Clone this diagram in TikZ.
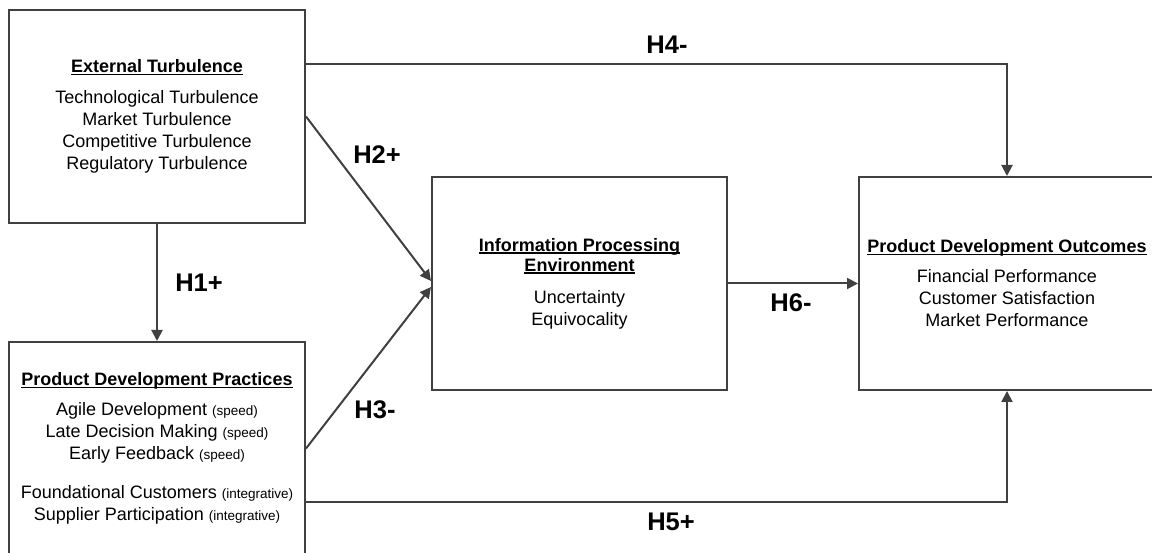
\documentclass[tikz,border=0pt]{standalone}
\usepackage{fontspec}
\setmainfont{Liberation Sans}
\usetikzlibrary{arrows.meta}
\definecolor{edge}{HTML}{404040}
% bold heading with a thin rule just under the baseline
\newcommand\hd[1]{\textbf{\setbox0\hbox{#1}\rlap{\rule[-2.4pt]{\wd0}{1.3pt}}\box0}}
\newcommand\sm[1]{{\fontsize{13.5}{16}\selectfont #1}}
\tikzset{
  construct/.style={draw=edge, line width=2pt, rectangle, inner sep=0pt,
    minimum height=213pt, align=center, font=\fontsize{18}{22}\selectfont},
  conn/.style={draw=edge, line width=2pt, -{Triangle[length=11pt,width=11pt]}},
  hyp/.style={font=\fontsize{25.5}{28}\selectfont\bfseries, inner sep=0pt}
}
\begin{document}
\begin{tikzpicture}[x=1pt, y=-1pt]
\useasboundingbox (0,0) rectangle (1152,553);
\clip (0,0) rectangle (1152,553);
\fill[white] (0,0) rectangle (1152,553);

% the four constructs
\node[construct, minimum width=296pt] (ext) at (157,116.5)
  {\hd{External Turbulence}\\[9pt]
   Technological Turbulence\\ Market Turbulence\\
   Competitive Turbulence\\ Regulatory Turbulence};
\node[construct, minimum width=296pt] (pdp) at (157,448.5)
  {\hd{Product Development Practices}\\[8pt]
   Agile Development \sm{(speed)}\\
   Late Decision Making \sm{(speed)}\\
   Early Feedback \sm{(speed)}\\[17pt]
   Foundational Customers \sm{(integrative)}\\
   Supplier Participation \sm{(integrative)}};
\node[construct, minimum width=295pt] (ipe) at (579.5,283.5)
  {\hd{Information Processing}\\[-2pt]
   \hd{Environment}\\[10pt]
   Uncertainty\\ Equivocality};
\node[construct, minimum width=296pt] (out) at (1007,283.5)
  {\hd{Product Development Outcomes}\\[8pt]
   Financial Performance\\ Customer Satisfaction\\ Market Performance};

% bend points of the elbow connectors
\coordinate (k4) at (1007,64);
\coordinate (k5) at (1007,502);

% hypothesised paths
\draw[conn] (ext.south) -- (pdp.north);
\draw[conn] (ext.east) -- ([yshift=2.5pt]ipe.west);
\draw[conn] (pdp.east) -- ([yshift=-3.5pt]ipe.west);
\draw[conn] (ext.east |- k4) -- (k4) -- (out.north);
\draw[conn] (pdp.east |- k5) -- (k5) -- (out.south);
\draw[conn] (ipe.east) -- (out.west);

% path labels
\node[hyp] (h1) at (199,283) {H1+};
\node[hyp] (h2) at (377,155) {H2+};
\node[hyp] (h3) at (375,410) {H3-};
\node[hyp] (h4) at (667,45) {H4-};
\node[hyp] (h5) at (671,522) {H5+};
\node[hyp] (h6) at (791,303) {H6-};
\end{tikzpicture}
\end{document}
